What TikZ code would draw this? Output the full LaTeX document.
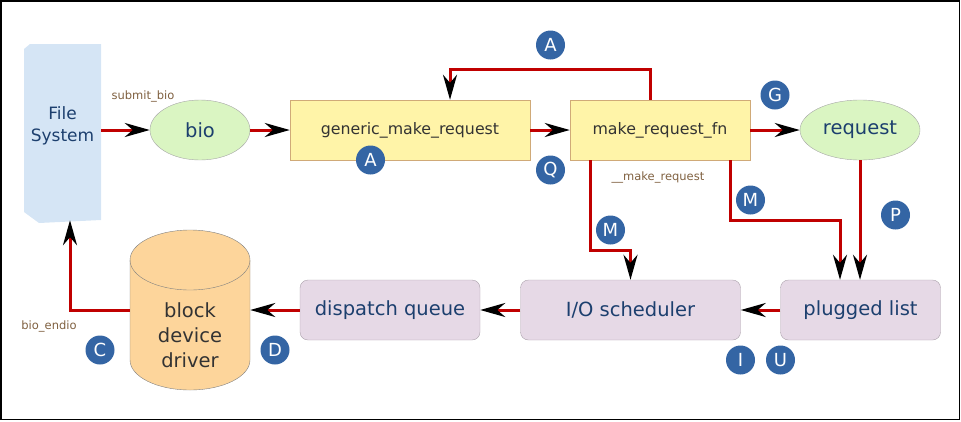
\documentclass[tikz,border=0pt]{standalone}
\usepackage{fontspec}
\setmainfont{DejaVu Sans}
\usetikzlibrary{arrows.meta,shapes.geometric}
\definecolor{flowred}{HTML}{C00000}
\definecolor{fsfill}{HTML}{D5E5F5}
\definecolor{darkblue}{HTML}{1C3F6E}
\definecolor{greenfill}{HTML}{DAF5C2}
\definecolor{yellowfill}{HTML}{FFF4A8}
\definecolor{yellowline}{HTML}{D0AA78}
\definecolor{purplefill}{HTML}{E6D9E6}
\definecolor{purpleline}{HTML}{ABA1AB}
\definecolor{orangefill}{HTML}{FDD59B}
\definecolor{badgeblue}{HTML}{3465A4}
\definecolor{labelbrown}{HTML}{7F6040}
\definecolor{darktext}{HTML}{333333}
\begin{document}
\begin{tikzpicture}[x=1pt,y=-1pt,
  flow/.style={draw=flowred, line width=3pt, -{Stealth[length=25pt,width=14pt,inset=8pt,black]}},
  ovalnode/.style={ellipse, draw=gray!70, fill=greenfill, text=darkblue, minimum width=100pt, minimum height=60pt, inner sep=0pt, font=\fontsize{19.5}{22}\selectfont},
  funcbox/.style={rectangle, draw=yellowline, fill=yellowfill, text=darktext, minimum height=60pt, inner sep=0pt, font=\fontsize{15.8}{18}\selectfont},
  queuebox/.style={rectangle, rounded corners=8pt, draw=purpleline, fill=purplefill, text=darkblue, minimum height=60pt, inner sep=0pt, font=\fontsize{19.5}{22}\selectfont},
  badge/.style={circle, fill=badgeblue, text=white, minimum size=29pt, inner sep=0pt, font=\fontsize{18}{18}\selectfont},
  smalllabel/.style={text=labelbrown, inner sep=0pt, font=\fontsize{11.5}{13}\selectfont}
]
\useasboundingbox (0,0) rectangle (961,421);
\draw[black, line width=1.5pt] (0.75,0.75) rectangle (959.5,419.5);

% File System
\fill[fsfill] (24,49) -- (30,44) -- (101,44) -- (101,220) -- (39,223) -- (24,212) -- cycle;
\node[inner sep=0pt, minimum width=77pt, minimum height=176pt] (fs) at (62.5,132) {};
\node[align=center, text=darkblue, inner sep=0pt, font=\fontsize{17}{22}\selectfont] (fstext) at (62.5,126) {File\\System};

% top row
\node[ovalnode] (bio) at (200,130) {bio};
\node[funcbox, minimum width=240pt] (gmr) at (410,130) {generic\_make\_request};
\node[funcbox, minimum width=180pt] (mrf) at (660,130) {make\_request\_fn};
\node[ovalnode, minimum width=120pt] (req) at (860,130) {request};

% bottom row: block device driver cylinder
\path[fill=orangefill, draw=gray] (130,260) -- (130,360)
  arc[start angle=180, end angle=360, x radius=60pt, y radius=30pt] -- (250,260)
  arc[start angle=0, end angle=180, x radius=60pt, y radius=30pt] -- cycle;
\draw[gray] (130,260) arc[start angle=180, end angle=360, x radius=60pt, y radius=30pt];
\node[inner sep=0pt, minimum width=120pt, minimum height=160pt] (bdd) at (190,310) {};
\node[align=center, text=darktext, inner sep=0pt, font=\fontsize{19.5}{25}\selectfont] (bddtext) at (190,335) {block\\device\\driver};
\node[queuebox, minimum width=180pt] (dq) at (390,310) {dispatch queue};
\node[queuebox, minimum width=220pt] (io) at (630.5,310) {I/O scheduler};
\node[queuebox, minimum width=160pt] (pl) at (860.5,310) {plugged list};

% labels
\node[smalllabel] (lsubmit) at (143,96.5) {submit\_bio};
\node[smalllabel] (lmake) at (658,177) {\_\_make\_request};
\node[smalllabel] (lendio) at (49,326.5) {bio\_endio};

% connectors
\draw[flow] (fs.east |- bio.west) -- (bio);
\draw[flow] (bio) -- (gmr);
\draw[flow] (gmr) -- (mrf);
\draw[flow] (mrf) -- (req);
\draw[flow] ([xshift=-10pt]mrf.north) -- ++(0,-30) -| ([xshift=40pt]gmr.north);
\draw[flow] ([xshift=-70pt]mrf.south) -- ++(0,90) -| (io.north);
\draw[flow] ([xshift=70pt]mrf.south) -- ++(0,60) -| ([xshift=-20.5pt]pl.north);
\draw[flow] (req.south) -- (req.south |- pl.north);
\draw[flow] (pl) -- (io);
\draw[flow] (io) -- (dq);
\draw[flow] (dq) -- (bdd);
\draw[flow] (bdd) -| ([xshift=7.5pt]fs.south);

% badges
\node[badge] (bA1) at (550.5,45) {A};
\node[badge] (bA2) at (370.5,160) {A};
\node[badge] (bQ) at (550.5,170) {Q};
\node[badge] (bG) at (775,95) {G};
\node[badge] (bM1) at (610.5,230) {M};
\node[badge] (bM2) at (750.5,200) {M};
\node[badge] (bP) at (895.5,215) {P};
\node[badge] (bC) at (100,350) {C};
\node[badge] (bD) at (275,350) {D};
\node[badge] (bI) at (740.5,360) {I};
\node[badge] (bU) at (780.5,360) {U};
\end{tikzpicture}
\end{document}
